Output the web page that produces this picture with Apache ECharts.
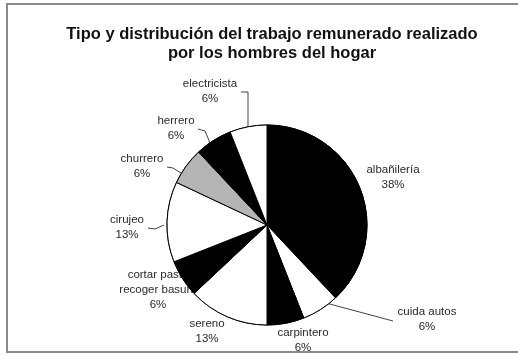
<!DOCTYPE html>
<html>
<head>
<meta charset="utf-8">
<script src="https://cdn.jsdelivr.net/npm/echarts@6/dist/echarts.min.js"></script>
<style>html,body{margin:0;padding:0;background:#fff;}#c{width:518px;height:355px;}</style>
</head>
<body>
<div id="c"></div>
<script>
// Data (clockwise from 12 o'clock)
const categories = ['albañilería', 'cuida autos', 'carpintero', 'sereno', 'cortar pasto\nrecoger basura', 'cirujeo', 'churrero', 'herrero', 'electricista'];
const values = [38, 6, 6, 13, 6, 13, 6, 6, 6];
const sliceColors = ['#000000', '#ffffff', '#000000', '#ffffff', '#000000', '#ffffff', '#b4b4b4', '#000000', '#ffffff'];
const titleText = 'Tipo y distribución del trabajo remunerado realizado\npor los hombres del hogar';

// Label layout (positions of label blocks and leader lines)
const labelPos = [[393, 177], [427, 319.5], [303, 340], [207, 331.5], [158, 290], [127, 227.5], [142, 166.5], [176, 128.5], [210, 91.5]];
const leaderLines = [null, [[326, 303], [393, 321]], null, null, null,
  [[148, 228], [155, 229], [164, 225]],
  [[167, 167], [173, 168], [181, 173]],
  [[198, 129], [205, 131], [210, 143]],
  [[241, 92], [248, 92], [248, 130]]];

const chart = echarts.init(document.getElementById('c'));
const center = [267, 225];
const radius = 100;

const labeledData = categories.map((n, i) => ({
  name: n, value: values[i],
  itemStyle: { color: sliceColors[i] },
  labelLine: { show: !!leaderLines[i] }
}));
const coverData = categories.map((n, i) => ({
  name: n, value: values[i],
  itemStyle: { color: sliceColors[i] }
}));

chart.setOption({
  backgroundColor: '#ffffff',
  animation: false,
  title: {
    text: titleText,
    left: 267, top: 20, textAlign: 'center',
    textStyle: { fontFamily: 'Liberation Sans, Arial, sans-serif', fontSize: 16.5, fontWeight: 'bold', color: '#111', lineHeight: 19 }
  },
  graphic: [{
    type: 'rect', silent: true, z: -1,
    shape: { x: 7, y: 4, width: 530, height: 348 },
    style: { fill: 'none', stroke: '#8a8a8a', lineWidth: 2 }
  }],
  series: [{
    type: 'pie', z: 2,
    center: center, radius: radius,
    startAngle: 90, clockwise: true,
    avoidLabelOverlap: false,
    itemStyle: { borderColor: '#000', borderWidth: 1 },
    label: {
      show: true, formatter: '{b}\n{c}%',
      fontFamily: 'Liberation Sans, Arial, sans-serif', fontSize: 11.5, color: '#2a2a2a', lineHeight: 15
    },
    labelLine: { lineStyle: { color: '#444', width: 1 } },
    labelLayout: function (params) {
      const i = params.dataIndex;
      const o = { x: labelPos[i][0], y: labelPos[i][1], align: 'center', verticalAlign: 'middle' };
      if (leaderLines[i]) o.labelLinePoints = leaderLines[i];
      return o;
    },
    data: labeledData
  }, {
    type: 'pie', z: 5, silent: true,
    center: center, radius: radius,
    startAngle: 90, clockwise: true,
    itemStyle: { borderColor: '#000', borderWidth: 1 },
    label: { show: false }, labelLine: { show: false },
    data: coverData
  }]
});
</script>
</body>
</html>
